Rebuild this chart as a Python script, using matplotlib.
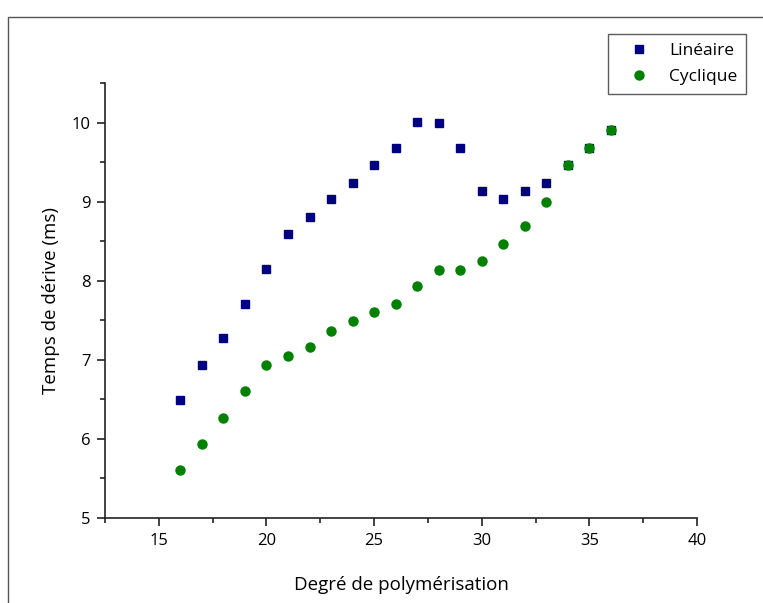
import matplotlib
matplotlib.use("Agg")
import matplotlib.pyplot as plt
from matplotlib.patches import Rectangle
from matplotlib.ticker import MultipleLocator

plt.rcParams['font.family'] = ['Open Sans', 'DejaVu Sans']

# données
dp = [16, 17, 18, 19, 20, 21, 22, 23, 24, 25, 26, 27, 28, 29, 30, 31, 32, 33, 34, 35, 36]
lineaire = [6.49, 6.94, 7.27, 7.71, 8.15, 8.59, 8.80, 9.03, 9.24, 9.46, 9.68, 10.01, 10.00,
            9.68, 9.13, 9.03, 9.13, 9.24, 9.46, 9.68, 9.90]
cyclique = [5.61, 5.94, 6.27, 6.60, 6.94, 7.05, 7.16, 7.37, 7.49, 7.60, 7.71, 7.93, 8.14,
            8.14, 8.25, 8.47, 8.69, 9.00, 9.46, 9.68, 9.90]

fig = plt.figure(figsize=(7.63, 6.03), dpi=100)
ax = fig.add_axes([105/763, 1-518/603, (697-105)/763, (518-83)/603])

ax.plot(dp, lineaire, linestyle='none', marker='s', markersize=6.0,
        color='#000080', label='Linéaire')
ax.plot(dp, cyclique, linestyle='none', marker='o', markersize=6.5,
        color='#008000', label='Cyclique')

ax.set_xlim(12.5, 40)
ax.set_ylim(5, 10.5)
ax.xaxis.set_major_locator(MultipleLocator(5))
ax.xaxis.set_minor_locator(MultipleLocator(2.5))
ax.yaxis.set_major_locator(MultipleLocator(1))
ax.yaxis.set_minor_locator(MultipleLocator(0.5))

for s in ['top', 'right']:
    ax.spines[s].set_visible(False)
for s in ['left', 'bottom']:
    ax.spines[s].set_linewidth(1.2)
    ax.spines[s].set_color('#222222')
ax.tick_params(which='major', direction='out', length=5.5, width=1.2, labelsize=12,
               color='#222222', pad=5)
ax.tick_params(which='minor', direction='out', length=3.6, width=1.2, color='#222222')

ax.set_xlabel('Degré de polymérisation', fontsize=13.5, labelpad=20)
ax.set_ylabel('Temps de dérive (ms)', fontsize=13.5, labelpad=8)

leg = ax.legend(loc='upper right', bbox_to_anchor=(746/763, 1-34/603),
                bbox_transform=fig.transFigure, borderaxespad=0, fancybox=False,
                fontsize=12.5, labelspacing=0.6, handlelength=2.5, handletextpad=0.5,
                borderpad=0.5, numpoints=1)
leg.get_frame().set_edgecolor('#333333')
leg.get_frame().set_linewidth(1.0)

# cadre gris autour de la figure
fig.patches.append(Rectangle((8/763, -0.05), 1.0, 1-17/603+0.05, transform=fig.transFigure,
                             fill=False, edgecolor='#555555', linewidth=1.0))

fig.savefig('out.png', dpi=100)
